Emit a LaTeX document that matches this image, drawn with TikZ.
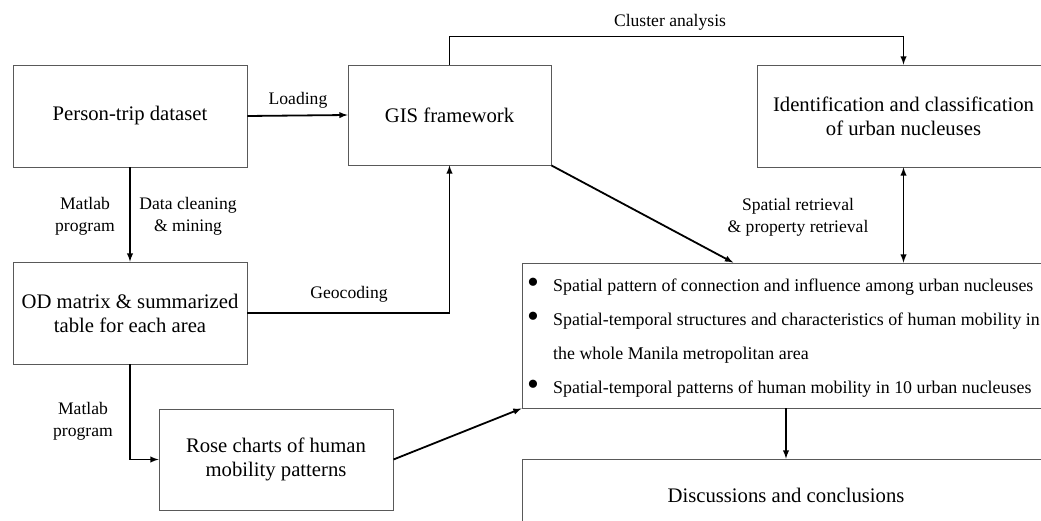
\documentclass[tikz,border=0pt]{standalone}
\usepackage{fontspec}
\setmainfont{Liberation Serif}
\usetikzlibrary{arrows,calc}

\newcommand{\resdot}{\makebox[26pt][l]{\raisebox{-2.5pt}{\scalebox{1.9}{\textbullet}}}}

\begin{document}
\begin{tikzpicture}[x=1pt, y=-1pt,
    box/.style={draw=black!65, line width=0.9pt, align=center, font=\fontsize{20.7}{24}\selectfont},
    lbl/.style={align=center, font=\fontsize{17.6}{22}\selectfont},
    conn/.style={line width=1.8pt, -latex}]

\useasboundingbox (0,0) rectangle (1041,521);
\clip (0,0) rectangle (1041,521);

\node[box, minimum width=234, minimum height=102] (trip) at (130,116) {Person-trip dataset};
\node[box, minimum width=203, minimum height=100] (gis) at (449.5,115) {GIS framework};
\node[box, minimum width=293, minimum height=102] (ident) at (903.5,116) {Identification and classification\\of urban nucleuses};
\node[box, minimum width=234, minimum height=102] (od) at (130,313) {OD matrix \& summarized\\table for each area};
\node[box, minimum width=234, minimum height=101] (rose) at (276,459.5) {Rose charts of human\\mobility patterns};
\node[box, minimum width=528, minimum height=145] (res) at (786,335.5) {};
\node[box, minimum width=528, minimum height=72] (disc) at (786,495) {Discussions and conclusions};

\node[lbl, align=left, anchor=west, inner sep=0, font=\fontsize{17.9}{34}\selectfont] (restext) at (527,338)
  {\resdot Spatial pattern of connection and influence among urban nucleuses\\
   \resdot Spatial-temporal structures and characteristics of human mobility in\\
   \hspace*{26pt}the whole Manila metropolitan area\\
   \resdot Spatial-temporal patterns of human mobility in 10 urban nucleuses};

% connectors
\draw[conn] (trip.east) -- (gis.west);
\draw[conn] (trip.south) -- (od.north);
\draw[conn] (od.east) -| (gis.south);
\draw[conn] (gis.north) -- ++(0,-28) -| (ident.north);
\draw[conn] (gis.south east) -- ($(res.north west)!0.4!(res.north east)$);
\draw[conn, latex-latex] (ident.south) -- (ident.south |- res.north);
\draw[conn] (od.south) |- (rose.west);
\draw[conn] (rose.east) -- (res.south west);
\draw[conn] (res.south) -- (disc.north);

% labels
\node[lbl] (lload) at (298,100) {Loading};
\node[lbl] (lclust) at (670,22) {Cluster analysis};
\node[lbl] (lmat1) at (85,216) {Matlab\\program};
\node[lbl] (lclean) at (188,216) {Data cleaning\\\& mining};
\node[lbl] (lgeo) at (349,294) {Geocoding};
\node[lbl] (lret) at (798,217) {Spatial retrieval\\\& property retrieval};
\node[lbl] (lmat2) at (83,421) {Matlab\\program};

\end{tikzpicture}
\end{document}
